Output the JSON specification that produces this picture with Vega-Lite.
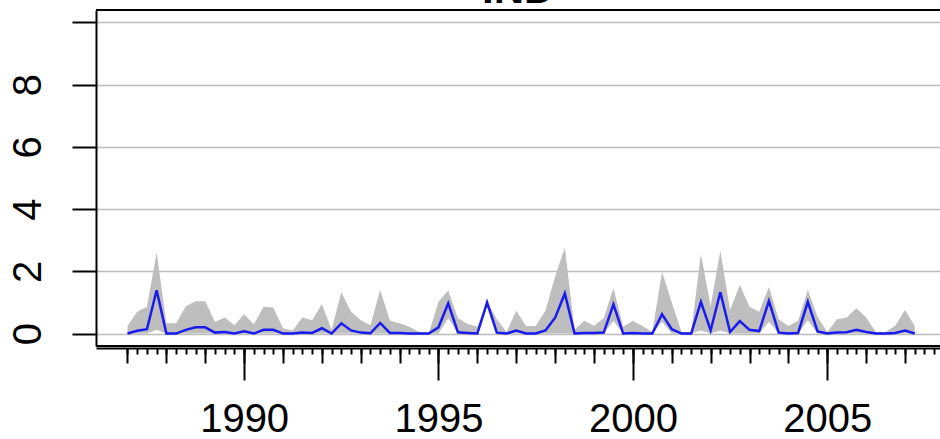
{
  "$schema": "https://vega.github.io/schema/vega-lite/v6.json",
  "autosize": {"type": "none"},
  "padding": {"left": 96, "top": 10, "right": 0, "bottom": 93},
  "width": 844,
  "height": 336,
  "background": "white",
  "config": {"view": {"stroke": null}, "axis": {"labelFont": "Liberation Sans", "labelColor": "black", "tickColor": "black", "domainColor": "black"}},
  "data": {"values": [
    {"t": 1987.00, "hi": 0.24, "mid": 0.00, "lo": 0},
    {"t": 1987.25, "hi": 0.70, "mid": 0.09, "lo": 0},
    {"t": 1987.50, "hi": 0.86, "mid": 0.14, "lo": 0},
    {"t": 1987.75, "hi": 2.61, "mid": 1.39, "lo": 0.12},
    {"t": 1988.00, "hi": 0.33, "mid": 0.00, "lo": 0},
    {"t": 1988.25, "hi": 0.33, "mid": 0.00, "lo": 0},
    {"t": 1988.50, "hi": 0.88, "mid": 0.12, "lo": 0},
    {"t": 1988.75, "hi": 1.04, "mid": 0.20, "lo": 0},
    {"t": 1989.00, "hi": 1.04, "mid": 0.20, "lo": 0},
    {"t": 1989.25, "hi": 0.37, "mid": 0.03, "lo": 0},
    {"t": 1989.50, "hi": 0.52, "mid": 0.05, "lo": 0},
    {"t": 1989.75, "hi": 0.27, "mid": 0.00, "lo": 0},
    {"t": 1990.00, "hi": 0.62, "mid": 0.07, "lo": 0},
    {"t": 1990.25, "hi": 0.30, "mid": 0.00, "lo": 0},
    {"t": 1990.50, "hi": 0.86, "mid": 0.12, "lo": 0},
    {"t": 1990.75, "hi": 0.84, "mid": 0.12, "lo": 0},
    {"t": 1991.00, "hi": 0.17, "mid": 0.00, "lo": 0},
    {"t": 1991.25, "hi": 0.10, "mid": 0.00, "lo": 0},
    {"t": 1991.50, "hi": 0.52, "mid": 0.03, "lo": 0},
    {"t": 1991.75, "hi": 0.43, "mid": 0.02, "lo": 0},
    {"t": 1992.00, "hi": 0.95, "mid": 0.17, "lo": 0},
    {"t": 1992.25, "hi": 0.12, "mid": 0.00, "lo": 0},
    {"t": 1992.50, "hi": 1.33, "mid": 0.33, "lo": 0},
    {"t": 1992.75, "hi": 0.70, "mid": 0.10, "lo": 0},
    {"t": 1993.00, "hi": 0.43, "mid": 0.03, "lo": 0},
    {"t": 1993.25, "hi": 0.27, "mid": 0.01, "lo": 0},
    {"t": 1993.50, "hi": 1.40, "mid": 0.34, "lo": 0},
    {"t": 1993.75, "hi": 0.41, "mid": 0.02, "lo": 0},
    {"t": 1994.00, "hi": 0.33, "mid": 0.02, "lo": 0},
    {"t": 1994.25, "hi": 0.22, "mid": 0.00, "lo": 0},
    {"t": 1994.50, "hi": 0.05, "mid": 0.00, "lo": 0},
    {"t": 1994.75, "hi": 0.00, "mid": 0.00, "lo": 0},
    {"t": 1995.00, "hi": 1.02, "mid": 0.20, "lo": 0},
    {"t": 1995.25, "hi": 1.38, "mid": 0.97, "lo": 0.49},
    {"t": 1995.50, "hi": 0.49, "mid": 0.04, "lo": 0},
    {"t": 1995.75, "hi": 0.31, "mid": 0.02, "lo": 0},
    {"t": 1996.00, "hi": 0.22, "mid": 0.00, "lo": 0},
    {"t": 1996.25, "hi": 1.02, "mid": 1.00, "lo": 0.85},
    {"t": 1996.50, "hi": 0.46, "mid": 0.03, "lo": 0},
    {"t": 1996.75, "hi": 0.05, "mid": 0.00, "lo": 0},
    {"t": 1997.00, "hi": 0.73, "mid": 0.10, "lo": 0},
    {"t": 1997.25, "hi": 0.24, "mid": 0.00, "lo": 0},
    {"t": 1997.50, "hi": 0.24, "mid": 0.00, "lo": 0},
    {"t": 1997.75, "hi": 0.73, "mid": 0.10, "lo": 0},
    {"t": 1998.00, "hi": 1.83, "mid": 0.51, "lo": 0},
    {"t": 1998.25, "hi": 2.76, "mid": 1.29, "lo": 0},
    {"t": 1998.50, "hi": 0.12, "mid": 0.00, "lo": 0},
    {"t": 1998.75, "hi": 0.41, "mid": 0.02, "lo": 0},
    {"t": 1999.00, "hi": 0.25, "mid": 0.02, "lo": 0},
    {"t": 1999.25, "hi": 0.49, "mid": 0.03, "lo": 0},
    {"t": 1999.50, "hi": 1.46, "mid": 0.94, "lo": 0.40},
    {"t": 1999.75, "hi": 0.22, "mid": 0.00, "lo": 0},
    {"t": 2000.00, "hi": 0.41, "mid": 0.02, "lo": 0},
    {"t": 2000.25, "hi": 0.24, "mid": 0.00, "lo": 0},
    {"t": 2000.50, "hi": 0.05, "mid": 0.00, "lo": 0},
    {"t": 2000.75, "hi": 1.99, "mid": 0.62, "lo": 0.38},
    {"t": 2001.00, "hi": 1.00, "mid": 0.14, "lo": 0},
    {"t": 2001.25, "hi": 0.05, "mid": 0.00, "lo": 0},
    {"t": 2001.50, "hi": 0.05, "mid": 0.00, "lo": 0},
    {"t": 2001.75, "hi": 2.56, "mid": 1.02, "lo": 0.10},
    {"t": 2002.00, "hi": 0.88, "mid": 0.10, "lo": 0},
    {"t": 2002.25, "hi": 2.66, "mid": 1.33, "lo": 0.10},
    {"t": 2002.50, "hi": 0.76, "mid": 0.05, "lo": 0},
    {"t": 2002.75, "hi": 1.56, "mid": 0.40, "lo": 0},
    {"t": 2003.00, "hi": 0.86, "mid": 0.12, "lo": 0},
    {"t": 2003.25, "hi": 0.70, "mid": 0.08, "lo": 0},
    {"t": 2003.50, "hi": 1.50, "mid": 1.05, "lo": 0.38},
    {"t": 2003.75, "hi": 0.46, "mid": 0.03, "lo": 0},
    {"t": 2004.00, "hi": 0.24, "mid": 0.00, "lo": 0},
    {"t": 2004.25, "hi": 0.41, "mid": 0.02, "lo": 0},
    {"t": 2004.50, "hi": 1.40, "mid": 1.02, "lo": 0.43},
    {"t": 2004.75, "hi": 0.54, "mid": 0.07, "lo": 0},
    {"t": 2005.00, "hi": 0.05, "mid": 0.00, "lo": 0},
    {"t": 2005.25, "hi": 0.46, "mid": 0.03, "lo": 0},
    {"t": 2005.50, "hi": 0.52, "mid": 0.04, "lo": 0},
    {"t": 2005.75, "hi": 0.81, "mid": 0.12, "lo": 0},
    {"t": 2006.00, "hi": 0.52, "mid": 0.05, "lo": 0},
    {"t": 2006.25, "hi": 0.05, "mid": 0.00, "lo": 0},
    {"t": 2006.50, "hi": 0.05, "mid": 0.00, "lo": 0},
    {"t": 2006.75, "hi": 0.25, "mid": 0.02, "lo": 0},
    {"t": 2007.00, "hi": 0.76, "mid": 0.10, "lo": 0},
    {"t": 2007.25, "hi": 0.24, "mid": 0.00, "lo": 0}
  ]},
  "resolve": {"axis": {"x": "independent"}},
  "layer": [
    {
      "mark": {"type": "area", "color": "#bebebe", "opacity": 1},
      "encoding": {
        "x": {"field": "t", "type": "quantitative", "title": null,
          "scale": {"domain": [1986.19, 2007.9], "nice": false, "zero": false},
          "axis": {"orient": "bottom", "offset": 2, "domain": false, "labels": false, "grid": false, "tickSize": 6, "tickWidth": 2,
            "values": [1987,1987.25,1987.5,1987.75,1988,1988.25,1988.5,1988.75,1989,1989.25,1989.5,1989.75,1990,1990.25,1990.5,1990.75,1991,1991.25,1991.5,1991.75,1992,1992.25,1992.5,1992.75,1993,1993.25,1993.5,1993.75,1994,1994.25,1994.5,1994.75,1995,1995.25,1995.5,1995.75,1996,1996.25,1996.5,1996.75,1997,1997.25,1997.5,1997.75,1998,1998.25,1998.5,1998.75,1999,1999.25,1999.5,1999.75,2000,2000.25,2000.5,2000.75,2001,2001.25,2001.5,2001.75,2002,2002.25,2002.5,2002.75,2003,2003.25,2003.5,2003.75,2004,2004.25,2004.5,2004.75,2005,2005.25,2005.5,2005.75,2006,2006.25,2006.5,2006.75,2007,2007.25,2007.5,2007.75]}},
        "y": {"field": "hi", "type": "quantitative", "title": null,
          "scale": {"domain": [-0.4, 10.4], "nice": false, "zero": false},
          "axis": {"values": [0, 2, 4, 6, 8, 10], "grid": true, "gridColor": "#bbbbbb", "gridWidth": 1.5,
            "tickSize": 24, "tickWidth": 2, "domainWidth": 2, "labelFontSize": 40, "labelAngle": -90,
            "labelAlign": "center", "labelBaseline": "alphabetic", "labelPadding": 32,
            "labelExpr": "datum.value == 10 ? '' : datum.label"}},
        "y2": {"field": "lo"}
      }
    },
    {
      "mark": {"type": "line", "color": "#1a1aee", "strokeWidth": 2.5},
      "encoding": {
        "x": {"field": "t", "type": "quantitative", "title": null,
          "scale": {"domain": [1986.19, 2007.9], "nice": false, "zero": false},
          "axis": {"orient": "bottom", "offset": 2, "domain": true, "domainWidth": 2, "labels": false, "grid": false, "tickSize": 15, "tickWidth": 2,
            "values": [1987,1988,1989,1990,1991,1992,1993,1994,1995,1996,1997,1998,1999,2000,2001,2002,2003,2004,2005,2006,2007]}},
        "y": {"field": "mid", "type": "quantitative", "title": null}
      }
    },
    {
      "mark": {"type": "rule", "color": "black", "strokeWidth": 2},
      "encoding": {
        "x": {"datum": 1986.19, "type": "quantitative", "title": null,
          "axis": {"orient": "bottom", "offset": 2, "domain": false, "grid": false, "tickSize": 32, "tickWidth": 2,
            "values": [1990, 1995, 2000, 2005], "labelFontSize": 40, "labelPadding": 19, "format": "d"}},
        "x2": {"datum": 2007.9},
        "y": {"datum": -0.4, "type": "quantitative", "title": null}
      }
    },
    {
      "mark": {"type": "rule", "color": "black", "strokeWidth": 2},
      "encoding": {
        "y": {"datum": 10.4, "type": "quantitative", "title": null}
      }
    },
    {
      "data": {"values": [{"title": "IND"}]},
      "mark": {"type": "text", "font": "Liberation Sans", "fontSize": 42, "fontWeight": "bold", "color": "black", "align": "center", "baseline": "alphabetic", "dy": -7},
      "encoding": {
        "text": {"field": "title"},
        "x": {"datum": 1997.05, "type": "quantitative", "axis": null},
        "y": {"datum": 10.4, "type": "quantitative"}
      }
    }
  ]
}
